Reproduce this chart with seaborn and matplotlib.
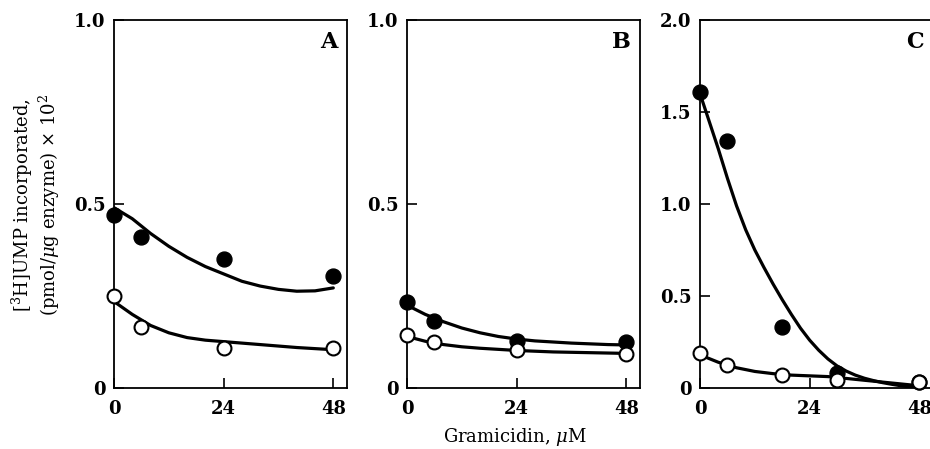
import pandas as pd
import matplotlib
matplotlib.use('Agg')
import matplotlib.pyplot as plt
import seaborn as sns

# measured points (gramicidin uM, incorporation)
a_x = [0, 6, 24, 48]
a_filled = [0.47, 0.41, 0.35, 0.305]
a_open = [0.25, 0.167, 0.11, 0.11]

b_x = [0, 6, 24, 48]
b_filled = [0.235, 0.183, 0.128, 0.126]
b_open = [0.145, 0.126, 0.104, 0.093]

c_x = [0, 6, 18, 30, 48]
c_filled = [1.61, 1.34, 0.33, 0.08, 0.03]
c_open = [0.19, 0.125, 0.07, 0.045, 0.03]

# fitted curves
curve_x = [0, 4, 8, 12, 16, 20, 24, 28, 32, 36, 40, 44, 48]
a_fit_filled = [0.49, 0.46, 0.42, 0.385, 0.355, 0.33, 0.31, 0.29, 0.277, 0.268, 0.263, 0.264, 0.272]
a_fit_open = [0.235, 0.2, 0.17, 0.15, 0.137, 0.13, 0.126, 0.122, 0.118, 0.114, 0.11, 0.107, 0.104]
b_fit_filled = [0.225, 0.2, 0.18, 0.163, 0.15, 0.14, 0.133, 0.128, 0.125, 0.122, 0.12, 0.118, 0.117]
b_fit_open = [0.14, 0.127, 0.118, 0.112, 0.108, 0.105, 0.102, 0.1, 0.098, 0.097, 0.096, 0.095, 0.094]
c_fit_open = [0.18, 0.14, 0.11, 0.09, 0.078, 0.07, 0.066, 0.062, 0.052, 0.042, 0.032, 0.022, 0.012]

c_curve_x = [0, 2, 4, 6, 8, 10, 12, 14, 16, 18, 20, 22, 24,
             26, 28, 30, 32, 34, 36, 38, 40, 42, 44, 46, 48]
c_fit_filled = [1.60, 1.45, 1.30, 1.14, 0.99, 0.86, 0.75, 0.655, 0.565, 0.48, 0.40, 0.325, 0.26,
                0.205, 0.158, 0.12, 0.092, 0.07, 0.053, 0.04, 0.029, 0.02, 0.012, 0.006, 0.0]

panels = [
    ('A', a_x, a_filled, a_open, curve_x, a_fit_filled, curve_x, a_fit_open, 1.0, [0, 0.5, 1.0], ['0', '0.5', '1.0']),
    ('B', b_x, b_filled, b_open, curve_x, b_fit_filled, curve_x, b_fit_open, 1.0, [0, 0.5, 1.0], ['0', '0.5', '1.0']),
    ('C', c_x, c_filled, c_open, c_curve_x, c_fit_filled, curve_x, c_fit_open, 2.0,
     [0, 0.5, 1.0, 1.5, 2.0], ['0', '0.5', '1.0', '1.5', '2.0']),
]

sns.set_style('ticks')
plt.rcParams['font.family'] = ['DejaVu Serif']
plt.rcParams['mathtext.fontset'] = 'dejavuserif'
plt.rcParams['text.color'] = 'black'
plt.rcParams['axes.edgecolor'] = 'black'
plt.rcParams['xtick.color'] = 'black'
plt.rcParams['ytick.color'] = 'black'

W, H = 930, 449
fig = plt.figure(figsize=(W / 100, H / 100), dpi=100)
lefts = [114, 407, 700]

for (name, px, pf, po, fxf, ff, fxo, fo, ymax, yt, ytl), left in zip(panels, lefts):
    ax = fig.add_axes([left / W, (H - 388) / H, 233 / W, 368 / H])
    fit = pd.DataFrame({'x': fxf + fxo,
                        'y': ff + fo,
                        'set': ['filled'] * len(ff) + ['open'] * len(fo)})
    sns.lineplot(data=fit, x='x', y='y', units='set', estimator=None,
                 color='black', linewidth=2.3, ax=ax, legend=False)
    sns.scatterplot(x=px, y=pf, color='black', edgecolor='black', s=115,
                    linewidth=1.0, ax=ax, zorder=5, clip_on=False)
    sns.scatterplot(x=px, y=po, color='white', edgecolor='black', s=100,
                    linewidth=1.5, ax=ax, zorder=5, clip_on=False)
    ax.set_xlim(0, 51)
    ax.set_ylim(0, ymax)
    ax.set_xticks([0, 24, 48])
    ax.set_xticklabels(['0', '24', '48'])
    ax.set_yticks(yt)
    ax.set_yticklabels(ytl)
    ax.tick_params(direction='in', length=7, width=1.2, labelsize=13)
    ax.tick_params(axis='x', pad=9)
    ax.tick_params(axis='y', pad=6)
    for lab in ax.get_xticklabels() + ax.get_yticklabels():
        lab.set_fontweight('bold')
    for sp in ax.spines.values():
        sp.set_visible(True)
        sp.set_linewidth(1.3)
    ax.set_xlabel('')
    ax.set_ylabel('')
    ax.text(0.96, 0.94, name, transform=ax.transAxes, ha='right', va='center',
            fontsize=16, fontweight='bold')

fig.text(36 / W, 1 - 205 / H,
         '[$^3$H]UMP incorporated,\n(pmol/$\\mu$g enzyme) $\\times$ 10$^2$',
         rotation=90, ha='center', va='center', fontsize=13, linespacing=1.1)
fig.text(515 / W, 1 - 437 / H, 'Gramicidin, $\\mu$M', ha='center', va='center',
         fontsize=13)

fig.savefig('out.png', dpi=100)
